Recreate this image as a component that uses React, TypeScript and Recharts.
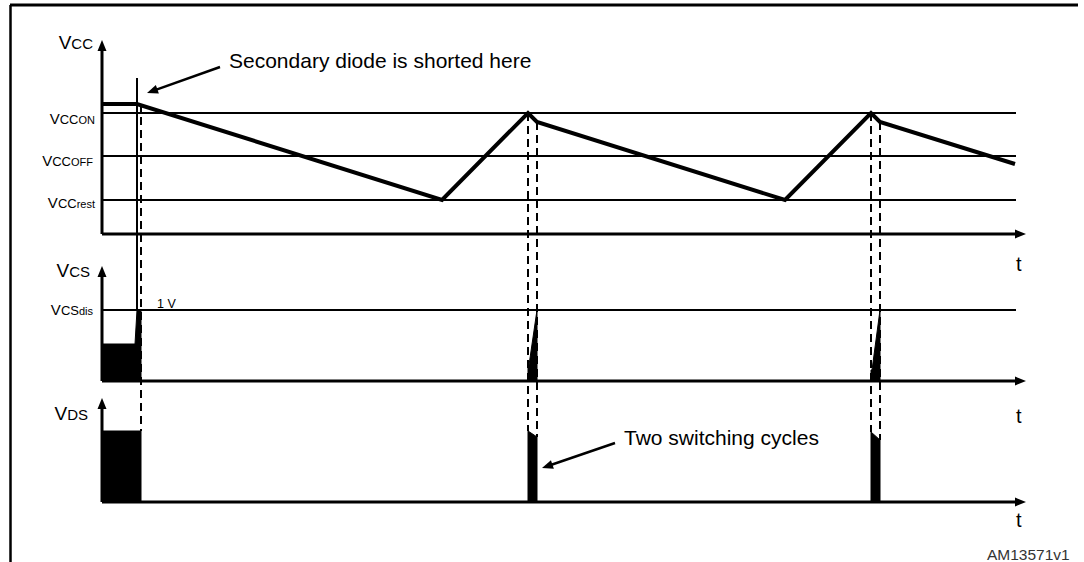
import React from 'react';
import {
  ComposedChart,
  Line,
  Area,
  XAxis,
  YAxis,
  ReferenceLine,
  ReferenceDot,
} from 'recharts';

// chart units: time 0..92.4 along the t axes, levels measured up from each trace's own baseline
const BASE_VCC = 32.8;
const BASE_VCS = 18.1;
const BASE_VDS = 6.0;

const T_END = 92.4; // arrow tip of the time axes
const T_LEVEL_END = 91.4; // threshold lines stop here

// Vcc trace
const VCC_T = [0, 3.5, 34.0, 42.6, 43.5, 68.3, 76.9, 77.8, 91.3];
const VCC_V = [13.0, 13.0, 3.4, 12.1, 11.2, 3.4, 12.1, 11.2, 7.0];
const VCC_TOP = 19.4;
const VCC_ON = 12.1;
const VCC_OFF = 7.8;
const VCC_REST = 3.4;

// Vcs trace
const VCS_TOP = 11.5;
const VCS_DIS = 7.1;
const VCS_BLOCK_T = [0, 3.3, 3.5, 3.9, 3.9];
const VCS_BLOCK_V = [3.7, 3.7, 7.1, 7.1, 0];
const VCS_PULSE1_T = [42.6, 42.6, 42.7, 43.5, 43.5];
const VCS_PULSE1_V = [0, 1.6, 1.6, 7.1, 0];
const VCS_PULSE2_T = [76.9, 76.9, 77.0, 77.8, 77.8];
const VCS_PULSE2_V = [0, 1.1, 1.1, 7.1, 0];

// Vds trace
const VDS_TOP = 10.4;
const VDS_BLOCK_T = [0, 3.9, 3.9];
const VDS_BLOCK_V = [7.1, 7.1, 0];
const VDS_PULSE1_T = [42.6, 42.6, 43.5, 43.5];
const VDS_PULSE1_V = [0, 7.1, 6.5, 0];
const VDS_PULSE2_T = [76.9, 76.9, 77.8, 77.8];
const VDS_PULSE2_V = [0, 7.0, 6.2, 0];

// dashed guides: from the Vcc trace down to the Vds pulse top
const GUIDE_T = [3.9, 42.6, 43.5, 76.9, 77.8];
const GUIDE_FROM_VCC = [13.0, 12.1, 11.2, 12.1, 11.2];
const GUIDE_TO_VDS = [7.1, 7.1, 6.5, 7.0, 6.2];

// the moment the secondary diode is shorted
const SHORT_T = 3.5;
const SHORT_FROM_VCC = 15.6;

const FONT = '"Liberation Sans", Arial, sans-serif';

const toRows = (ts: number[], vs: number[], base: number) =>
  ts.map((t, i) => ({ t, v: +(vs[i] + base).toFixed(2) }));

const arrowShape = (p: any) => {
  const { x1, y1, x2, y2 } = p;
  const dx = x2 - x1;
  const dy = y2 - y1;
  const len = Math.hypot(dx, dy) || 1;
  const ux = dx / len;
  const uy = dy / len;
  const L = 11;
  const W = 4.5;
  const bx = x2 - ux * L;
  const by = y2 - uy * L;
  const pts = `${x2},${y2} ${bx - uy * W},${by + ux * W} ${bx + uy * W},${by - ux * W}`;
  return (
    <g>
      <line x1={x1} y1={y1} x2={bx + ux} y2={by + uy} stroke="#000" strokeWidth={p.strokeWidth} />
      <polygon points={pts} fill="#000" />
    </g>
  );
};

type Part = [string, number];

const textShape = (parts: Part[], anchor: string = 'start', fill = '#000') => (p: any) => (
  <text x={p.cx} y={p.cy} textAnchor={anchor} fontFamily={FONT} fill={fill}>
    {parts.map(([s, size], i) => (
      <tspan key={i} fontSize={size}>{s}</tspan>
    ))}
  </text>
);

const Note = ({ t, y, parts, anchor, fill }: any) => (
  <ReferenceDot
    x={t}
    y={y}
    r={1}
    ifOverflow="visible"
    shape={textShape(parts, anchor, fill)}
  />
);

const Arrow = ({ from, to, width = 3 }: any) => (
  <ReferenceLine
    segment={[{ x: from[0], y: from[1] }, { x: to[0], y: to[1] }]}
    ifOverflow="visible"
    stroke="#000"
    strokeWidth={width}
    shape={arrowShape}
  />
);

const Seg = ({ from, to, width = 2, dash }: any) => (
  <ReferenceLine
    segment={[{ x: from[0], y: from[1] }, { x: to[0], y: to[1] }]}
    ifOverflow="visible"
    stroke="#000"
    strokeWidth={width}
    strokeDasharray={dash}
  />
);

export default function App() {
  const vcc = toRows(VCC_T, VCC_V, BASE_VCC);
  const fills = [
    toRows(VCS_BLOCK_T, VCS_BLOCK_V, BASE_VCS),
    toRows(VCS_PULSE1_T, VCS_PULSE1_V, BASE_VCS),
    toRows(VCS_PULSE2_T, VCS_PULSE2_V, BASE_VCS),
  ];
  const vdsFills = [
    toRows(VDS_BLOCK_T, VDS_BLOCK_V, BASE_VDS),
    toRows(VDS_PULSE1_T, VDS_PULSE1_V, BASE_VDS),
    toRows(VDS_PULSE2_T, VDS_PULSE2_V, BASE_VDS),
  ];

  const levels = [
    BASE_VCC + VCC_ON,
    BASE_VCC + VCC_OFF,
    BASE_VCC + VCC_REST,
    BASE_VCS + VCS_DIS,
  ];

  return (
    <div style={{ position: 'absolute', left: 0, top: 0, width: 1084, height: 562, background: '#fff' }}>
      <ComposedChart width={1084} height={562} margin={{ top: 0, right: 0, bottom: 0, left: 0 }}>
        <XAxis type="number" dataKey="t" domain={[-10.2, 98.2]} allowDataOverflow hide />
        <YAxis type="number" dataKey="v" domain={[0, 56.2]} allowDataOverflow hide />

        {/* frame */}
        <Seg from={[-9.2, 55.7]} to={[97.6, 55.7]} width={3} />
        <Seg from={[-9.15, 55.7]} to={[-9.15, 0]} width={2.5} />

        {/* threshold levels */}
        {levels.map((y, i) => (
          <Seg key={`lvl-${i}`} from={[0, y]} to={[T_LEVEL_END, y]} width={2} />
        ))}

        {/* filled Vcs / Vds pulses */}
        {fills.map((d, i) => (
          <Area
            key={`vcs-${i}`}
            data={d}
            dataKey="v"
            type="linear"
            baseValue={BASE_VCS}
            fill="#000"
            fillOpacity={1}
            stroke="#000"
            strokeWidth={1}
            dot={false}
            activeDot={false}
            isAnimationActive={false}
          />
        ))}
        {vdsFills.map((d, i) => (
          <Area
            key={`vds-${i}`}
            data={d}
            dataKey="v"
            type="linear"
            baseValue={BASE_VDS}
            fill="#000"
            fillOpacity={1}
            stroke="#000"
            strokeWidth={1}
            dot={false}
            activeDot={false}
            isAnimationActive={false}
          />
        ))}

        {/* dashed guides */}
        {GUIDE_T.map((t, i) => (
          <Seg
            key={`g-${i}`}
            from={[t, BASE_VCC + GUIDE_FROM_VCC[i]]}
            to={[t, BASE_VDS + GUIDE_TO_VDS[i]]}
            width={2}
            dash="8 5"
          />
        ))}
        <Seg from={[SHORT_T, BASE_VCC + SHORT_FROM_VCC]} to={[SHORT_T, BASE_VCS + VCS_DIS]} width={2} />

        {/* axes with arrowheads */}
        <Arrow from={[0, BASE_VCC]} to={[0, BASE_VCC + VCC_TOP]} />
        <Arrow from={[0, BASE_VCC]} to={[T_END, BASE_VCC]} />
        <Arrow from={[0, BASE_VCS]} to={[0, BASE_VCS + VCS_TOP]} />
        <Arrow from={[0, BASE_VCS]} to={[T_END, BASE_VCS]} />
        <Arrow from={[0, BASE_VDS]} to={[0, BASE_VDS + VDS_TOP]} />
        <Arrow from={[0, BASE_VDS]} to={[T_END, BASE_VDS]} />

        <Line
          data={vcc}
          dataKey="v"
          type="linear"
          stroke="#000"
          strokeWidth={4}
          strokeLinejoin="miter"
          dot={false}
          activeDot={false}
          isAnimationActive={false}
        />

        {/* annotations */}
        <Arrow from={[11.8, 49.5]} to={[4.5, 46.9]} width={2.5} />
        <Note t={12.7} y={49.4} parts={[['Secondary diode is shorted here', 21]]} />
        <Arrow from={[51.3, 11.9]} to={[44.0, 9.4]} width={2.5} />
        <Note t={52.2} y={11.7} parts={[['Two switching cycles', 21]]} />
        <Note t={5.5} y={25.4} parts={[['1 V', 12.5]]} />

        <Note t={91.4} y={29.1} parts={[['t', 20]]} />
        <Note t={91.4} y={13.9} parts={[['t', 20]]} />
        <Note t={91.4} y={3.5} parts={[['t', 20]]} />
        <Note t={88.5} y={0.2} parts={[['AM13571v1', 15.5]]} fill="#333" />

        {/* level / axis names */}
        <Note t={-0.9} y={51.3} anchor="end" parts={[['V', 19], ['CC', 15]]} />
        <Note t={-0.7} y={43.8} anchor="end" parts={[['V', 15], ['CC', 13], ['ON', 11]]} />
        <Note t={-0.9} y={39.6} anchor="end" parts={[['V', 15], ['CC', 13], ['OFF', 11]]} />
        <Note t={-0.7} y={35.4} anchor="end" parts={[['V', 15], ['CC', 13], ['rest', 11]]} />
        <Note t={-1.2} y={28.5} anchor="end" parts={[['V', 19], ['CS', 15]]} />
        <Note t={-0.9} y={24.7} anchor="end" parts={[['V', 15], ['CS', 13], ['dis', 11]]} />
        <Note t={-1.4} y={14.2} anchor="end" parts={[['V', 19], ['DS', 15]]} />
      </ComposedChart>
    </div>
  );
}
